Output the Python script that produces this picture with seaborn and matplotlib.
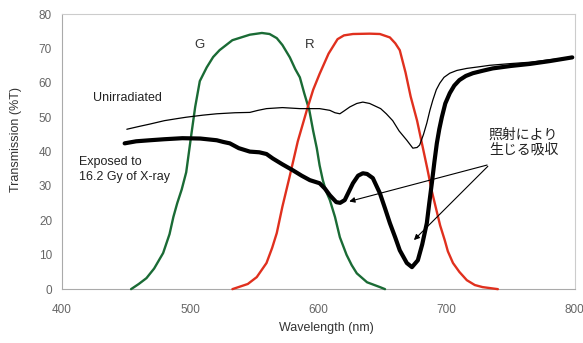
import matplotlib
matplotlib.use("Agg")
import matplotlib.pyplot as plt
import seaborn as sns

# Green filter transmission (curve, then its zero baseline back to the start)
g_wl = [454, 460, 466, 472, 479, 484, 487, 490, 493.5, 497, 501, 504, 507.6, 513, 518, 523,
        533, 546.6, 556, 562, 567.6, 572, 577.8, 582, 585.6, 589, 593, 596, 598.8, 601,
        603.5, 606, 609, 613, 616.8, 622, 626, 630, 638, 648, 652, 454]
g_t = [0, 1.5, 3.2, 6, 10.5, 16, 21, 25, 29, 34, 45, 53, 60.5, 64.5, 67.5, 69.5,
       72.4, 74, 74.5, 74.2, 73, 71, 67.4, 64, 61.6, 57, 52, 46, 41, 36,
       31.7, 28.5, 25.9, 21, 15.1, 10, 7, 4.6, 2, 0.6, 0, 0]

# Red filter transmission (curve, then its zero baseline back to the start)
r_wl = [533, 545, 552, 559.6, 564, 567.6, 572, 577.8, 584, 591, 596, 601, 608, 615, 620,
        627, 640, 648, 655.8, 660, 663.5, 668, 672, 677, 681, 685, 688.5, 692.4, 695,
        698.6, 701, 705, 710, 715.8, 722, 728, 736, 740, 533]
r_t = [0, 1.5, 3.5, 7.6, 12, 16.3, 24, 33, 43, 52, 58, 62.6, 68.5, 72.7, 73.8,
       74.2, 74.3, 74.2, 73.2, 71.5, 69.5, 63, 56, 49, 42, 35, 28.5, 22.5, 18.5,
       14.2, 11, 7.6, 5, 2.6, 1.2, 0.6, 0.2, 0, 0]

# Unirradiated
u_wl = [450.7, 460, 468.6, 480, 490, 497, 510, 520.8, 535, 546.6, 553, 559.6, 572, 585.6,
        601, 609, 613, 616.8, 620, 624.6, 630, 634.7, 640, 648.6, 653, 658, 663, 669,
        673.7, 677, 679, 682, 684.6, 687, 689.3, 692, 694.7, 698, 702.5, 708, 715.8,
        726, 733.7, 750, 765, 780, 798]
u_t = [46.5, 47.3, 48, 49, 49.6, 50, 50.6, 51, 51.3, 51.4, 52, 52.5, 52.8, 52.5,
       52.5, 52, 51.3, 51, 51.8, 53, 54, 54.4, 54, 52.5, 51, 49, 46, 43.3,
       41, 41.2, 41.9, 45, 48.3, 52, 55, 58, 59.9, 61.6, 62.8, 63.6, 64.2,
       64.7, 65.1, 65.6, 66, 66.7, 67.4]

# Exposed to 16.2 Gy of X-ray
e_wl = [449, 458, 468.6, 480, 494, 508, 520.8, 526, 531, 538, 546.6, 554, 559.6, 564.5,
        572, 580, 587, 593.4, 601, 605, 609, 614, 617, 620.6, 624, 627, 631, 634.7, 638,
        642.5, 648, 652, 655.8, 660, 663.5, 669, 673, 677.6, 681, 684.6, 686.5, 688.5,
        690.5, 692.4, 694.3, 696.3, 699, 702.5, 706, 710, 715, 720.5, 728, 736, 750,
        765, 780, 798]
e_t = [42.4, 43, 43.3, 43.6, 43.9, 43.8, 43.3, 42.8, 42.4, 41, 40, 39.8, 39.3, 38,
       36.3, 34.6, 33, 31.7, 30.8, 29.3, 27.3, 25.3, 25.1, 25.9, 28.5, 30.8, 33, 33.7, 33.5,
       32.3, 27.9, 23.5, 19.2, 15, 11.3, 7.6, 6.4, 8.4, 13, 19.2, 25, 30.8,
       37, 42.4, 46.5, 50, 54, 57, 59.2, 60.8, 62, 62.8, 63.5, 64.2, 64.9,
       65.5, 66.3, 67.4]

x_ticks = [400, 500, 600, 700, 800]
y_ticks = [0, 10, 20, 30, 40, 50, 60, 70, 80]

sns.set_theme(style="white")
plt.rcParams['font.family'] = ['Liberation Sans', 'Noto Sans CJK JP']

fig = plt.figure(figsize=(5.83, 3.43), dpi=100)
ax = fig.add_axes([0.106, 0.157, 0.880, 0.802])

green = '#1a6b35'
red = '#e0301e'

sns.lineplot(x=g_wl, y=g_t, ax=ax, color=green, linewidth=1.7, sort=False)
sns.lineplot(x=r_wl, y=r_t, ax=ax, color=red, linewidth=1.7, sort=False)
sns.lineplot(x=u_wl, y=u_t, ax=ax, color='black', linewidth=0.9, sort=False)
sns.lineplot(x=e_wl, y=e_t, ax=ax, color='black', linewidth=3.0, sort=False)
for ln in ax.lines:
    ln.set_clip_on(False)
    ln.set_solid_joinstyle('round')
    ln.set_zorder(3)

ax.set_xlim(400, 800)
ax.set_ylim(0, 80)
ax.set_xticks(x_ticks)
ax.set_yticks(y_ticks)
ax.tick_params(axis='y', labelsize=8.5, colors='#666666', length=0, pad=7)
ax.tick_params(axis='x', labelsize=8.5, colors='#666666', length=0, pad=11)
for s in ax.spines.values():
    s.set_color('#cccccc')
    s.set_linewidth(0.8)
ax.spines['left'].set_color('#aaaaaa')
ax.spines['bottom'].set_color('#aaaaaa')
ax.set_xlabel('Wavelength (nm)', fontsize=9, color='#333333')
ax.set_ylabel('Transmission (%T)', fontsize=9, color='#333333')
ax.xaxis.set_label_coords(0.515, -0.12)
ax.yaxis.set_label_coords(-0.078, 0.545)

ax.text(507.6, 70.9, 'G', fontsize=9.5, color='#333333', ha='center', va='center')
ax.text(593, 70.9, 'R', fontsize=9.5, color='#333333', ha='center', va='center')
ax.text(424, 55.5, 'Unirradiated', fontsize=9, color='#222222', ha='left', va='center')
ax.text(413.5, 34.9, 'Exposed to\n16.2 Gy of X-ray', fontsize=9, color='#222222',
        ha='left', va='center', linespacing=1.35)
ax.text(733, 42.8, '照射により\n生じる吸収', fontsize=10, color='#222222',
        ha='left', va='center', linespacing=1.1,
        family=['Noto Sans CJK JP', 'DejaVu Sans'])

arrow = dict(arrowstyle='-|>', color='black', lw=0.8, mutation_scale=8)
ax.annotate('', xy=(622, 25.3), xytext=(733.7, 36.3), arrowprops=arrow)
ax.annotate('', xy=(673, 13.7), xytext=(733.7, 36.3), arrowprops=arrow)

fig.savefig('out.png', dpi=100)
